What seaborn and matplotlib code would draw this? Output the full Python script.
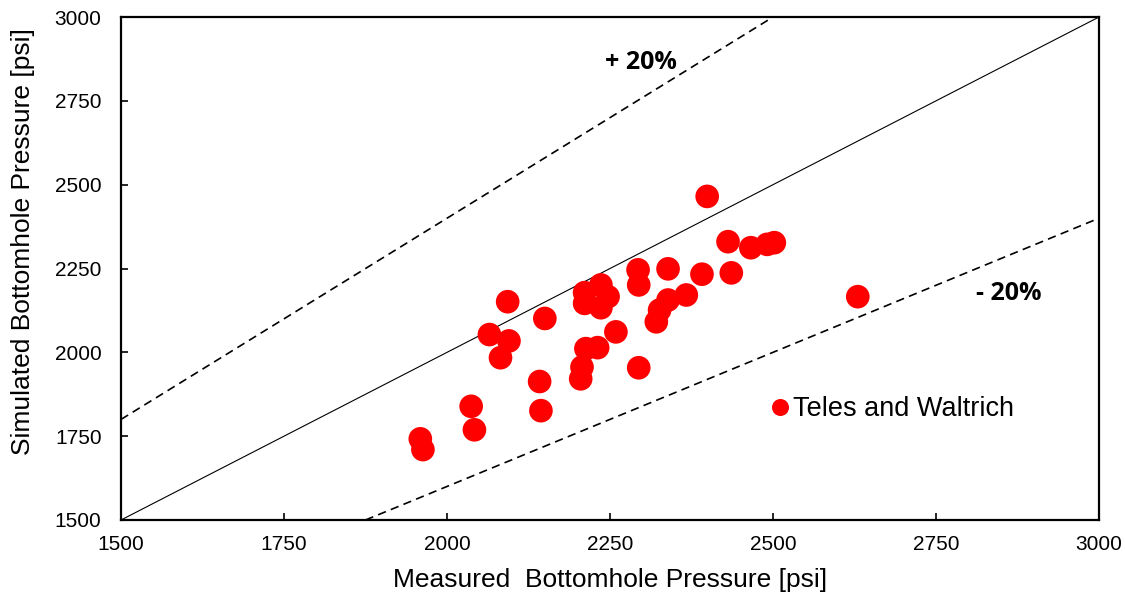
import numpy as np
import pandas as pd
import matplotlib
matplotlib.use("Agg")
import matplotlib.pyplot as plt
import seaborn as sns

# Measured vs simulated bottomhole pressure (psi)
measured = [1959, 1963, 2037, 2042, 2065, 2082, 2093, 2095, 2142, 2144,
            2150, 2205, 2207, 2211, 2211, 2213, 2231, 2236, 2236, 2247,
            2259, 2293, 2294, 2294, 2321, 2326, 2339, 2339, 2367, 2391,
            2399, 2431, 2436, 2466, 2491, 2502, 2630]
simulated = [1742, 1710, 1839, 1769, 2053, 1984, 2151, 2034, 1913, 1826,
             2101, 1921, 1956, 2178, 2146, 2011, 2014, 2201, 2133, 2166,
             2061, 2246, 2201, 1954, 2091, 2126, 2249, 2156, 2171, 2233,
             2465, 2330, 2237, 2312, 2322, 2327, 2166]
series_name = "Teles and Waltrich"

axis_ticks = [1500, 1750, 2000, 2250, 2500, 2750, 3000]
band = 0.20

df = pd.DataFrame({"measured": measured, "simulated": simulated,
                   "source": [series_name] * len(measured)})

sns.set_theme(style="white")
plt.rcParams["font.family"] = ["Liberation Sans", "DejaVu Sans"]
plt.rcParams["text.color"] = "black"
plt.rcParams["axes.labelcolor"] = "black"

fig = plt.figure(figsize=(11.25, 5.97), dpi=100)
ax = fig.add_axes([0.1076, 0.129, 0.8693, 0.8425])

lo, hi = axis_ticks[0], axis_ticks[-1]
xs = np.array([lo, hi], dtype=float)
ax.plot(xs, xs, color="black", lw=0.8, zorder=1)
ax.plot(xs, xs * (1 + band), color="black", lw=1.2, ls=(0, (5, 3.2)), zorder=1)
ax.plot(xs, xs * (1 - band), color="black", lw=1.2, ls=(0, (5, 3.2)), zorder=1)

sns.scatterplot(data=df, x="measured", y="simulated", hue="source",
                palette=["#ff0000"], s=290, edgecolor="none", ax=ax, zorder=3)

ax.set_xlim(lo, hi)
ax.set_ylim(lo, hi)
ax.set_xticks(axis_ticks)
ax.set_yticks(axis_ticks)
ax.tick_params(direction="in", length=5, width=1.2, labelsize=15,
               colors="black", bottom=True, left=True, top=False, right=False)
ax.tick_params(axis="y", pad=14)
ax.tick_params(axis="x", pad=11)
for s in ax.spines.values():
    s.set_color("black")
    s.set_linewidth(1.6)

ax.set_xlabel("Measured  Bottomhole Pressure [psi]", fontsize=19)
ax.set_ylabel("Simulated Bottomhole Pressure [psi]", fontsize=19)
ax.xaxis.set_label_coords(0.5, -0.095)
ax.yaxis.set_label_coords(-0.088, 0.553)

ax.text(2297, 2863, "+ 20%", fontsize=18, fontweight="bold", ha="center",
        va="center", family=["Open Sans", "DejaVu Sans"])
ax.text(2861, 2174, "- 20%", fontsize=18, fontweight="bold", ha="center",
        va="center", family=["Open Sans", "DejaVu Sans"])

leg = ax.legend(loc="center left", bbox_to_anchor=(0.652, 0.2207),
                frameon=False, fontsize=19.5, handletextpad=0.05,
                handlelength=0.8, markerscale=0.72, borderaxespad=0)
leg.set_title(None)

fig.savefig("out.png", dpi=100)
